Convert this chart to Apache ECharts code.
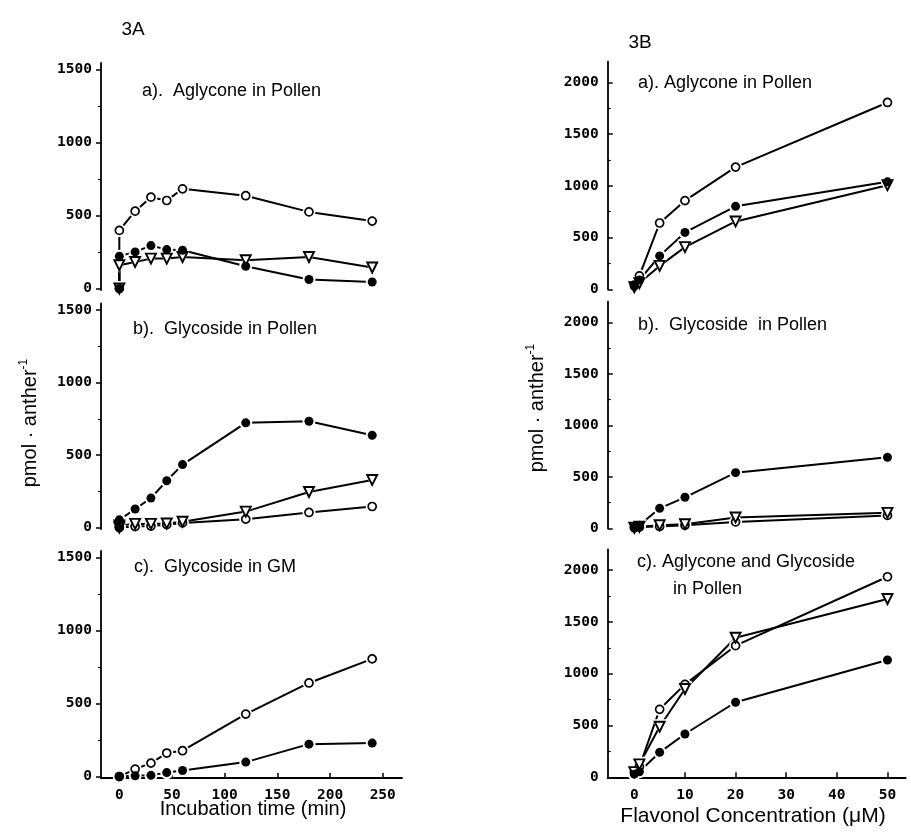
<!DOCTYPE html>
<html><head><meta charset="utf-8">
<script src="https://cdn.jsdelivr.net/npm/echarts@6/dist/echarts.min.js"></script>
<style>html,body{margin:0;padding:0;background:#fff}#c{width:911px;height:835px}</style>
</head><body><div id="c"></div>
<script>
// ---- 3A: time course (min) ----
const timeAB = [0, 0, 15, 30, 45, 60, 120, 180, 240];
const timeC = [0, 15, 30, 45, 60, 120, 180, 240];
const A_a_open   = [0, 398, 530, 626, 603, 683, 636, 525, 462];
const A_a_filled = [0, 221, 251, 294, 267, 262, 153, 62, 45];
const A_a_tri    = [0, 160, 182, 205, 205, 216, 194, 216, 144];
const A_b_open   = [0, 5, 7, 10, 20, 32, 58, 104, 145];
const A_b_filled = [0, 53, 128, 203, 323, 434, 722, 733, 636];
const A_b_tri    = [0, 15, 25, 25, 28, 40, 110, 245, 328];
const A_c_open   = [0, 51, 92, 161, 177, 428, 641, 806];
const A_c_filled = [0, 5, 8, 27, 41, 99, 222, 229];
// ---- 3B: concentration (µM) ----
const conc = [0, 1, 5, 10, 20, 50];
const B_a_open   = [40, 130, 641, 857, 1181, 1806];
const B_a_filled = [30, 90, 323, 550, 802, 1039];
const B_a_tri    = [20, 60, 226, 408, 656, 1006];
const B_b_open   = [5, 12, 18, 30, 62, 125];
const B_b_filled = [10, 30, 194, 301, 540, 689];
const B_b_tri    = [5, 15, 30, 40, 105, 150];
const B_c_open   = [50, 102, 656, 897, 1270, 1935];
const B_c_filled = [30, 54, 241, 418, 724, 1132];
const B_c_tri    = [50, 125, 488, 852, 1347, 1720];
// tick labels
const ticksA_y = [0, 500, 1000, 1500];
const minorA_y = [250, 750, 1250];
const ticksB_y = [0, 500, 1000, 1500, 2000];
const minorB_y = [250, 750, 1250, 1750];
const ticksA_x = [0, 50, 100, 150, 200, 250];
const ticksB_x = [0, 10, 20, 30, 40, 50];

const chart = echarts.init(document.getElementById('c'));
const tickFont = {fontFamily: 'DejaVu Sans Mono', fontWeight: 'bold', fontSize: 14.5, color: '#000', formatter: v => String(v)};
const textFont = 'Liberation Sans';

const grids = [
  {left: 101, width: 301, top: 63, height: 227},
  {left: 101, width: 301, top: 303.5, height: 225.5},
  {left: 101, width: 301, top: 551, height: 227},
  {left: 607.7, width: 298, top: 61.7, height: 227.6},
  {left: 607.7, width: 298, top: 301.7, height: 226.6},
  {left: 607.7, width: 298, top: 549.3, height: 228}
];
const xAxes = [], yAxes = [];
grids.forEach((g, i) => {
  const isA = i < 3, showX = (i === 2 || i === 5);
  xAxes.push({
    type: 'value', gridIndex: i, show: showX, position: 'bottom',
    min: isA ? -17.4 : -5.26, max: isA ? 268.3 : 53.6,
    axisLine: {show: true, onZero: false, lineStyle: {color: '#000', width: 1.8}},
    axisTick: {show: true, inside: true, length: 5, lineStyle: {color: '#000', width: 1.5}, customValues: isA ? ticksA_x : ticksB_x},
    axisLabel: Object.assign({margin: 10, customValues: isA ? ticksA_x : ticksB_x}, tickFont),
    splitLine: {show: false}
  });
  const ymin = isA ? -10 : 0, ymax = isA ? 1545 : 2200;
  yAxes.push({
    type: 'value', gridIndex: i, min: ymin, max: ymax, position: 'left', offset: 0,
    axisLine: {show: true, onZero: false, lineStyle: {color: '#000', width: 1.8}},
    axisTick: {show: true, inside: !isA, length: 5, lineStyle: {color: '#000', width: 1.5}, customValues: isA ? ticksA_y : ticksB_y},
    axisLabel: Object.assign({margin: 9, customValues: isA ? ticksA_y : ticksB_y}, tickFont),
    splitLine: {show: false}
  });
  yAxes.push({
    type: 'value', gridIndex: i, min: ymin, max: ymax, position: 'left', offset: 0,
    axisLine: {show: false, onZero: false},
    axisTick: {show: true, inside: !isA, length: 3, lineStyle: {color: '#000', width: 1.2}, customValues: isA ? minorA_y : minorB_y},
    axisLabel: {show: false},
    splitLine: {show: false}
  });
});

const series = [];
function pairs(xs, ys) { return xs.map((x, k) => [x, ys[k]]); }
function addSet(gi, xs, ys, kind) {
  const data = pairs(xs, ys);
  series.push({type: 'line', xAxisIndex: gi, yAxisIndex: gi * 2, data, showSymbol: false, symbol: 'none',
    lineStyle: {color: '#000', width: 2}, z: 2, silent: true, animation: false});
  series.push({type: 'scatter', xAxisIndex: gi, yAxisIndex: gi * 2, data,
    symbol: kind === 'tri' ? 'triangle' : 'circle', symbolRotate: kind === 'tri' ? 180 : 0,
    symbolSize: kind === 'tri' ? 15 : 13,
    itemStyle: {color: '#fff', borderWidth: 0, opacity: 1}, z: 3, silent: true, animation: false});
  let item;
  if (kind === 'open') item = {color: '#fff', borderColor: '#000', borderWidth: 1.7, opacity: 1};
  else if (kind === 'filled') item = {color: '#000', borderColor: '#000', borderWidth: 0, opacity: 1};
  else item = {color: '#fff', borderColor: '#000', borderWidth: 1.9, opacity: 1};
  series.push({type: 'scatter', xAxisIndex: gi, yAxisIndex: gi * 2, data,
    symbol: kind === 'tri' ? 'triangle' : 'circle', symbolRotate: kind === 'tri' ? 180 : 0,
    symbolSize: kind === 'tri' ? 10 : (kind === 'filled' ? 9 : 8),
    itemStyle: item, z: 4, silent: true, animation: false});
}
addSet(0, timeAB, A_a_open, 'open'); addSet(0, timeAB, A_a_tri, 'tri'); addSet(0, timeAB, A_a_filled, 'filled');
addSet(1, timeAB, A_b_open, 'open'); addSet(1, timeAB, A_b_tri, 'tri'); addSet(1, timeAB, A_b_filled, 'filled');
addSet(2, timeC, A_c_open, 'open'); addSet(2, timeC, A_c_filled, 'filled');
addSet(3, conc, B_a_open, 'open'); addSet(3, conc, B_a_tri, 'tri'); addSet(3, conc, B_a_filled, 'filled');
addSet(4, conc, B_b_open, 'open'); addSet(4, conc, B_b_tri, 'tri'); addSet(4, conc, B_b_filled, 'filled');
addSet(5, conc, B_c_open, 'open'); addSet(5, conc, B_c_tri, 'tri'); addSet(5, conc, B_c_filled, 'filled');

function txt(x, y, text, size, align, extra) {
  return Object.assign({type: 'text', x, y, silent: true,
    style: {text, fontFamily: textFont, fontSize: size, fill: '#000', align: align || 'left', verticalAlign: 'middle'}}, extra || {});
}
function ylab(x, y) {
  return {type: 'text', x, y, rotation: Math.PI / 2, silent: true,
    style: {text: '{m|pmol · anther}{s|-1}', align: 'center', verticalAlign: 'middle', fill: '#000',
      rich: {m: {fontFamily: textFont, fontSize: 20, lineHeight: 24, fill: '#000'},
             s: {fontFamily: textFont, fontSize: 12, lineHeight: 12, verticalAlign: 'top', fill: '#000'}}}};
}
const graphics = [
  txt(133, 30, '3A', 19, 'center'),
  txt(640, 43, '3B', 19, 'center'),
  txt(142, 91, 'a).  Aglycone in Pollen', 18),
  txt(133, 329, 'b).  Glycoside in Pollen', 18),
  txt(134, 567, 'c).  Glycoside in GM', 18),
  txt(638, 83, 'a). Aglycone in Pollen', 18),
  txt(638, 325, 'b).  Glycoside  in Pollen', 18),
  txt(637, 562, 'c). Aglycone and Glycoside', 18),
  txt(673, 589, 'in Pollen', 18),
  txt(253, 809, 'Incubation time (min)', 20, 'center'),
  txt(753, 816, 'Flavonol Concentration (μM)', 21, 'center'),
  ylab(30, 423),
  ylab(537, 408)
];

chart.setOption({
  animation: false,
  backgroundColor: '#fff',
  grid: grids,
  xAxis: xAxes,
  yAxis: yAxes,
  series,
  graphic: graphics
});
</script></body></html>
